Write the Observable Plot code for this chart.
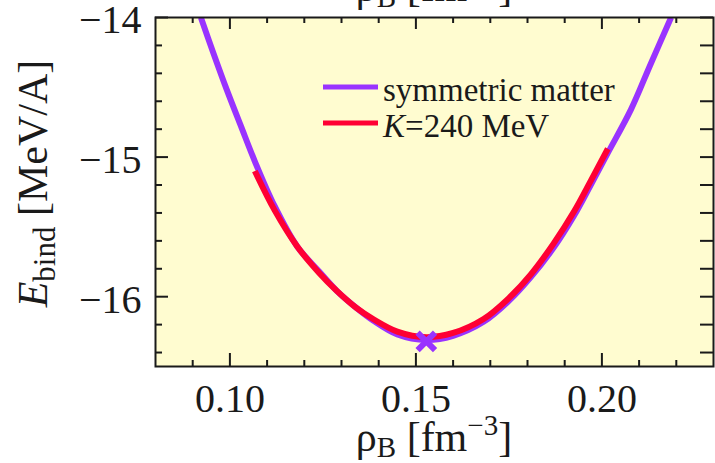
<!DOCTYPE html>
<html>
<head>
<meta charset="utf-8">
<script src="https://cdn.jsdelivr.net/npm/d3@7"></script>
<script src="https://cdn.jsdelivr.net/npm/@observablehq/plot@0.6"></script>
<style>
  html, body { margin: 0; padding: 0; background: #ffffff; }
  #chart { position: relative; width: 715px; height: 463px; overflow: hidden; }
</style>
</head>
<body>
<div id="chart"></div>
<script>
// Binding energy per nucleon of symmetric nuclear matter vs baryon density
const rhoSym = [0.0922, 0.0955, 0.0992, 0.1030, 0.1067, 0.1120, 0.1181, 0.1240, 0.1288, 0.1340, 0.1385, 0.1450,
                0.1528, 0.1600, 0.1682, 0.1750, 0.1809, 0.1870, 0.1925, 0.1970, 0.2016, 0.2078, 0.2130, 0.2186];
const eSym   = [-14.00, -14.25, -14.52, -14.78, -15.03, -15.35, -15.64, -15.82, -15.96, -16.08, -16.17, -16.27,
                -16.31, -16.28, -16.18, -16.03, -15.86, -15.65, -15.42, -15.20, -14.97, -14.66, -14.34, -14.00];

// Parabolic fit around saturation with incompressibility K = 240 MeV
const rhoK = [0.1067, 0.1120, 0.1181, 0.1240, 0.1288, 0.1340, 0.1385, 0.1450, 0.1528,
              0.1600, 0.1682, 0.1750, 0.1809, 0.1870, 0.1925, 0.1970, 0.2016];
const eK   = [-15.10, -15.38, -15.64, -15.83, -15.96, -16.08, -16.16, -16.25, -16.29,
              -16.26, -16.16, -16.01, -15.84, -15.62, -15.39, -15.17, -14.94];

// Saturation point
const satRho = [0.1528];
const satE = [-16.32];

// Axis ticks
const xLabels = [0.10, 0.15, 0.20];
const xMinor = [0.09, 0.11, 0.12, 0.13, 0.14, 0.16, 0.17, 0.18, 0.19, 0.21, 0.22];
const yLabels = [-14, -15, -16];
const yMinor = [-16.4, -16.2, -15.8, -15.6, -15.4, -15.2, -14.8, -14.6, -14.4, -14.2];

const seriesNames = ["symmetric matter", "K=240 MeV"];
const purple = "#9933ff";
const red = "#ff0033";
const ink = "#1a1a1a";

const W = 715, H = 463;
const mL = 155, mR = 2, mT = 17, mB = 97;
const pw = W - mL - mR, ph = H - mT - mB;

const symData = rhoSym.map((r, i) => ({rho: r, e: eSym[i]}));
const kData = rhoK.map((r, i) => ({rho: r, e: eK[i]}));
const satData = satRho.map((r, i) => ({rho: r, e: satE[i]}));

const svg = Plot.plot({
  width: W, height: H,
  marginLeft: mL, marginRight: mR, marginTop: mT, marginBottom: mB,
  style: {background: "#ffffff", fontFamily: "'Liberation Serif', 'DejaVu Serif', serif", color: ink, overflow: "visible"},
  x: {domain: [0.08, 0.23], label: null},
  y: {domain: [-16.5, -14], label: null},
  marks: [
    Plot.frame({fill: "#fffcd0", stroke: null}),
    Plot.line(symData, {x: "rho", y: "e", stroke: purple, strokeWidth: 6, curve: "catmull-rom", clip: true, strokeLinecap: "butt"}),
    Plot.line(kData, {x: "rho", y: "e", stroke: red, strokeWidth: 6, curve: "catmull-rom", strokeLinecap: "butt"}),
    Plot.dot(satData, {x: "rho", y: "e", symbol: "times", r: 8, stroke: purple, strokeWidth: 6}),
    // inward ticks: bottom
    Plot.tickX(xMinor, {x: d => d, insetTop: ph - 6, stroke: ink, strokeWidth: 2}),
    Plot.tickX(xLabels, {x: d => d, insetTop: ph - 13, stroke: ink, strokeWidth: 2}),
    // top
    Plot.tickX(xMinor, {x: d => d, insetBottom: ph - 6, stroke: ink, strokeWidth: 2}),
    Plot.tickX(xLabels, {x: d => d, insetBottom: ph - 12, stroke: ink, strokeWidth: 2}),
    // left
    Plot.tickY(yMinor, {y: d => d, insetRight: pw - 7, stroke: ink, strokeWidth: 2}),
    Plot.tickY(yLabels, {y: d => d, insetRight: pw - 13, stroke: ink, strokeWidth: 2}),
    // right
    Plot.tickY(yMinor.concat(yLabels), {y: d => d, insetLeft: pw - 13, stroke: ink, strokeWidth: 2}),
    Plot.frame({stroke: ink, strokeWidth: 2}),
    Plot.axisX(xLabels, {tickSize: 0, tickPadding: 17, fontSize: 40, tickFormat: d => d.toFixed(2), fill: ink}),
    Plot.axisY(yLabels, {tickSize: 0, tickPadding: 14, fontSize: 40, dy: 3, tickFormat: d => "\u2212" + Math.abs(d), fill: ink})
  ]
});

document.getElementById("chart").appendChild(svg);

const s = d3.select(svg);
const font = "'Liberation Serif', 'DejaVu Serif', serif";

// x-axis title: rho_B [fm^-3]
function rhoTitle(y) {
  const t = s.append("text")
    .attr("x", mL + pw / 2).attr("y", y)
    .attr("text-anchor", "middle")
    .attr("font-family", font).attr("font-size", 42).attr("fill", ink);
  t.append("tspan").text("\u03c1");
  t.append("tspan").attr("dy", 6).attr("font-size", 29).text("B");
  t.append("tspan").attr("dy", -6).text(" [fm");
  t.append("tspan").attr("dy", -16).attr("font-size", 29).text("\u22123");
  t.append("tspan").attr("dy", 16).text("]");
}
rhoTitle(451);
rhoTitle(1);

// y-axis title: E_bind [MeV/A]
const yt = s.append("text")
  .attr("transform", `translate(47,${mT + ph / 2 - 8}) rotate(-90)`)
  .attr("text-anchor", "middle")
  .attr("font-family", font).attr("font-size", 42).attr("fill", ink);
yt.append("tspan").attr("font-style", "italic").text("E");
yt.append("tspan").attr("dy", 8).attr("font-size", 31).text("bind");
yt.append("tspan").attr("dy", -8).text(" [MeV/A]");

// legend
const legend = [
  {name: seriesNames[0], color: purple, y: 87},
  {name: seriesNames[1], color: red, y: 123}
];
for (const item of legend) {
  s.append("line")
    .attr("x1", 323).attr("x2", 378)
    .attr("y1", item.y).attr("y2", item.y)
    .attr("stroke", item.color).attr("stroke-width", 5);
  const t = s.append("text")
    .attr("x", 383).attr("y", item.y + 14)
    .attr("text-anchor", "start")
    .attr("font-family", font).attr("font-size", 33).attr("fill", ink);
  if (item.name.startsWith("K=")) {
    t.append("tspan").attr("font-style", "italic").text("K");
    t.append("tspan").text(item.name.slice(1));
  } else {
    t.text(item.name);
  }
}
</script>
</body>
</html>
